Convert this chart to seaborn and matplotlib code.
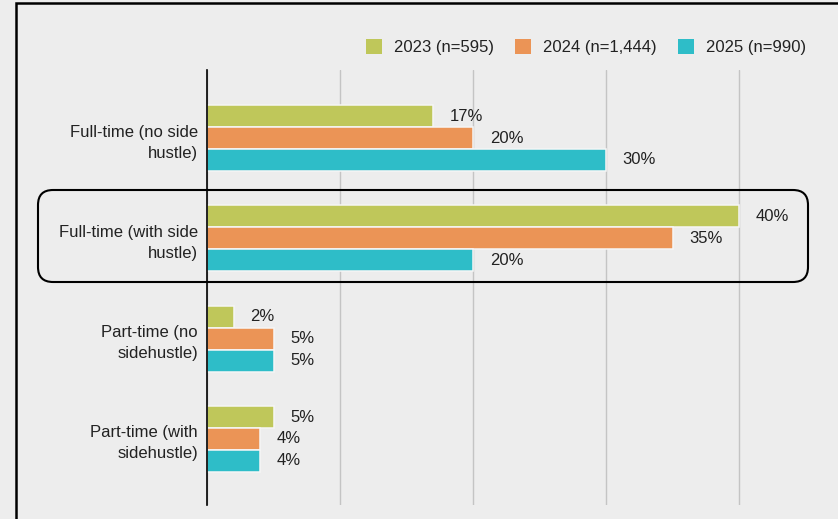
import numpy as np
import pandas as pd
import matplotlib
matplotlib.use("Agg")
import matplotlib.pyplot as plt
from matplotlib.patches import FancyBboxPatch, Rectangle
from matplotlib.transforms import IdentityTransform
import seaborn as sns

# --- data -------------------------------------------------------------
categories = [
    "Full-time (no side\nhustle)",
    "Full-time (with side\nhustle)",
    "Part-time (no\nsidehustle)",
    "Part-time (with\nsidehustle)",
]
series_labels = ["2023 (n=595)", "2024 (n=1,444)", "2025 (n=990)"]
values_2023 = [17, 40, 2, 5]
values_2024 = [20, 35, 5, 4]
values_2025 = [30, 20, 5, 4]
colors = ["#BFC75A", "#EB9456", "#2EBDC8"]

df = pd.DataFrame({
    "category": categories * 3,
    "series": np.repeat(series_labels, len(categories)),
    "value": values_2023 + values_2024 + values_2025,
})

# --- style ------------------------------------------------------------
bg = "#EDEDED"
text_color = "#222222"
sns.set_theme(style="white")
plt.rcParams["font.family"] = ["Liberation Sans", "DejaVu Sans"]
plt.rcParams["font.size"] = 12

W, H = 838, 519
fig = plt.figure(figsize=(W / 100, H / 100), dpi=100, facecolor=bg)
ax = fig.add_axes([207 / W, 14 / H, (W - 207) / W, 435 / H])
ax.set_facecolor(bg)

sns.barplot(
    data=df, y="category", x="value", hue="series",
    order=categories, hue_order=series_labels, palette=colors,
    orient="h", width=0.657, saturation=1,
    edgecolor="#F6F6F6", linewidth=1.1, ax=ax,
)

# value labels
for container in ax.containers:
    ax.bar_label(container, labels=[f"{v:g}%" for v in container.datavalues],
                 padding=12, fontsize=12, color=text_color)

# axes cosmetics
ax.set_xlim(0, (W - 207) / 13.3)
ax.set_ylim(3.658, -0.678)
ax.set_xticks([0, 10, 20, 30, 40])
ax.xaxis.grid(True, color="#C4C4C4", linewidth=1.0)
ax.yaxis.grid(False)
ax.set_axisbelow(True)
ax.tick_params(axis="x", length=0, labelbottom=False)
ax.tick_params(axis="y", length=0, pad=6.5, labelsize=12, labelcolor=text_color)
for lbl in ax.get_yticklabels():
    lbl.set_linespacing(1.5)
ax.set_xlabel("")
ax.set_ylabel("")
for side in ("top", "right", "bottom"):
    ax.spines[side].set_visible(False)
ax.spines["left"].set_color("black")
ax.spines["left"].set_linewidth(1.2)
ax.spines["left"].set_zorder(3)

# legend
handles, labels = ax.get_legend_handles_labels()
for h in handles:
    h.set_edgecolor("none")
ax.legend(
    handles, labels, ncol=3, frameon=False,
    loc="center right", bbox_to_anchor=(806 / W, 1 - 47 / H),
    bbox_transform=fig.transFigure, borderaxespad=0, borderpad=0,
    handlelength=0.96, handleheight=0.96, handletextpad=0.7,
    columnspacing=1.3, fontsize=12, labelcolor=text_color,
)

# highlight around the full-time-with-side-hustle group
highlight = FancyBboxPatch(
    (38, H - 282), 770, 92,
    boxstyle="round,pad=0,rounding_size=15",
    transform=IdentityTransform(), fill=False,
    edgecolor="black", linewidth=1.5,
)
fig.add_artist(highlight)

# outer frame
frame = Rectangle(
    (16, -20), W + 40, H - 3 + 20,
    transform=IdentityTransform(), fill=False,
    edgecolor="black", linewidth=1.8,
)
fig.add_artist(frame)

fig.savefig("out.png", dpi=100, facecolor=bg)
